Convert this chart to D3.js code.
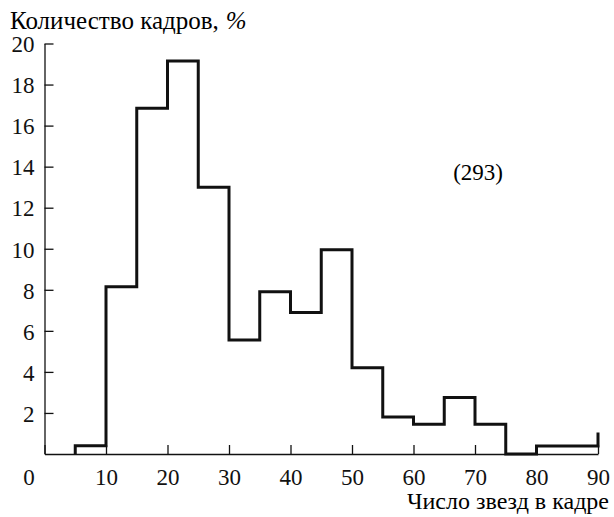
<!DOCTYPE html>
<html>
<head>
<meta charset="utf-8">
<script src="https://cdnjs.cloudflare.com/ajax/libs/d3/7.8.5/d3.min.js"></script>
<style>
  body { margin: 0; background: #fff; }
  svg { font-family: 'Liberation Serif'; }
</style>
</head>
<body>
<script>
////////////////////////////////////////////////////////////////
// DATA
////////////////////////////////////////////////////////////////
var binStarts = [5,10,15,20,25,30,35,40,45,50,55,60,65,70,75,80,85]; // left edge of each bin
var percents = [0.4,8.15,16.85,19.15,13.0,5.55,7.9,6.9,9.95,4.2,1.8,1.45,2.75,1.45,0,0.39,0.39]; // % of frames
var tailValue = 1.05; // cut-off rise at the right edge (x = 90)
var xTicks = [0,10,20,30,40,50,60,70,80,90];
var yTicks = [2,4,6,8,10,12,14,16,18,20];
var yTitle = "Количество кадров,";
var xTitle = "Число звезд в кадре";
var note = "(293)";

////////////////////////////////////////////////////////////////
// STAGE
////////////////////////////////////////////////////////////////
var svg = d3.select("body").append("svg")
    .attr("width", 614)
    .attr("height", 517);

var x = d3.scaleLinear().domain([0,90]).range([44.5,598]);
var y = d3.scaleLinear().domain([0,20]).range([454,43.5]);

function label(sel, size) {
	return sel.style("font-size", size + "px");
}

////////////////////////////////////////////////////////////////
// AXES
////////////////////////////////////////////////////////////////
var xAxis = svg.append("g")
    .attr("transform", "translate(0," + y(0) + ")")
    .call(d3.axisBottom(x).tickValues(xTicks).tickSizeInner(-9).tickSizeOuter(0).tickPadding(15));

var yAxis = svg.append("g")
    .attr("transform", "translate(" + x(0) + ",0)")
    .call(d3.axisLeft(y).tickValues(yTicks).tickSizeInner(-9).tickSizeOuter(0).tickPadding(10));

// drop d3's sans-serif defaults so the serif from the stylesheet applies
svg.selectAll("g").attr("font-family", null).attr("font-size", null);
svg.selectAll(".domain, .tick line")
    .attr("stroke", "#111")
    .attr("stroke-width", 1.3);
label(svg.selectAll(".tick text"), 23).attr("fill", "#111");
yAxis.selectAll(".tick text").attr("dy", "0.36em");

// the "0" at the corner sits left of the origin
xAxis.selectAll(".tick")
    .filter(function(d) { return d === 0; })
    .select("text")
    .attr("x", -16);

////////////////////////////////////////////////////////////////
// HISTOGRAM OUTLINE
////////////////////////////////////////////////////////////////
var pts = [[binStarts[0], 0]];
binStarts.forEach(function(b, i) { pts.push([b, percents[i]]); });
pts.push([90, tailValue]);

var line = d3.line()
    .x(function(d) { return x(d[0]); })
    .y(function(d) { return y(d[1]); })
    .curve(d3.curveStepAfter);

svg.append("path")
    .datum(pts)
    .attr("d", line)
    .attr("fill", "none")
    .attr("stroke", "#111")
    .attr("stroke-width", 3)
    .attr("stroke-linejoin", "miter");

////////////////////////////////////////////////////////////////
// TEXTS
////////////////////////////////////////////////////////////////
var t = label(svg.append("text"), 25)
    .attr("x", 10)
    .attr("y", 29)
    .text(yTitle);
var tw = t.node().getComputedTextLength();
label(svg.append("text"), 25)
    .attr("x", 10 + tw + 7)
    .attr("y", 29)
    .style("font-style", "italic")
    .text("%");

label(svg.append("text"), 24)
    .attr("x", 609)
    .attr("y", 509)
    .attr("text-anchor", "end")
    .text(xTitle);

label(svg.append("text"), 23)
    .attr("x", x(70.5))
    .attr("y", 180)
    .attr("text-anchor", "middle")
    .text(note);
</script>
</body>
</html>
